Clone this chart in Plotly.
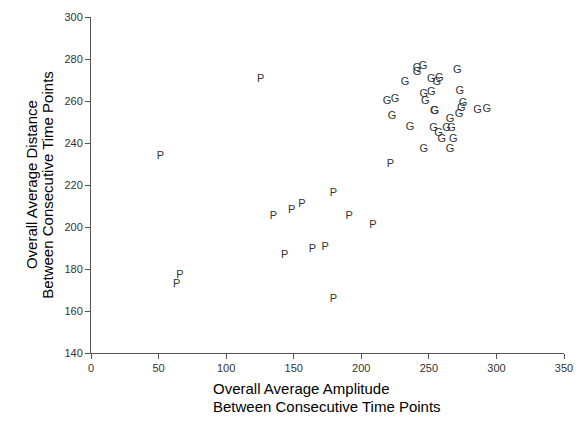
import plotly.graph_objects as go

# Group P
p_amp = [51.3, 125.6, 179.4, 134.9, 148.4, 156.1, 191.0, 143.3, 163.8, 173.2, 65.8, 63.4, 179.4, 221.5, 208.6]
p_dist = [233.5, 270.5, 216.0, 204.9, 207.8, 211.0, 204.9, 186.7, 189.5, 190.3, 177.1, 172.9, 165.6, 230.0, 201.0]

# Group G
g_amp = [241.3, 245.7, 241.3, 271.1, 232.4, 251.8, 257.8, 255.8, 272.8, 219.1, 224.9, 246.2,
         251.8, 247.4, 254.0, 254.3, 275.2, 274.0, 272.3, 286.1, 292.9, 222.7, 236.0, 265.6,
         253.4, 257.1, 259.5, 263.1, 266.7, 268.0, 246.2, 265.6]
g_dist = [275.6, 276.7, 273.5, 274.8, 268.7, 270.3, 270.8, 268.7, 264.8, 259.7, 261.0, 263.2,
          264.0, 259.7, 254.9, 255.0, 258.9, 256.5, 253.7, 255.7, 256.2, 252.9, 247.5, 251.1,
          246.8, 244.8, 241.6, 247.1, 246.8, 241.6, 236.8, 236.8]

x_ticks = [0, 50, 100, 150, 200, 250, 300, 350]
y_ticks = [140, 160, 180, 200, 220, 240, 260, 280, 300]

x_title = ["Overall Average Amplitude", "Between Consecutive Time Points"]
y_title = ["Overall Average Distance", "Between Consecutive Time Points"]

FONT = "Arial, Liberation Sans, sans-serif"

fig = go.Figure()
fig.add_trace(go.Scatter(x=p_amp, y=p_dist, mode="text", text=["P"] * len(p_amp),
                         textposition="middle center",
                         textfont=dict(family=FONT, size=11, color="#333333"),
                         hoverinfo="x+y", showlegend=False))
fig.add_trace(go.Scatter(x=g_amp, y=g_dist, mode="text", text=["G"] * len(g_amp),
                         textposition="middle center",
                         textfont=dict(family=FONT, size=11, color="#333333"),
                         hoverinfo="x+y", showlegend=False))

axis_common = dict(showgrid=False, zeroline=False, showline=True, linecolor="#555555",
                   linewidth=1, ticks="outside", ticklen=5, tickcolor="#555555",
                   tickfont=dict(family=FONT, size=11, color="#333333"), mirror=False)

title_font = dict(family=FONT, size=15, color="#000000")
annotations = []
for line, yp in zip(x_title, [-0.107, -0.158]):
    annotations.append(dict(text=line, xref="paper", yref="paper", x=0.253, y=yp,
                            xanchor="left", yanchor="middle", showarrow=False,
                            font=title_font))
for line, xp in zip(y_title, [-0.1266, -0.0934]):
    annotations.append(dict(text=line, xref="paper", yref="paper", x=xp, y=0.5,
                            xanchor="center", yanchor="middle", showarrow=False,
                            textangle=-90, font=title_font))

fig.update_layout(
    width=584, height=427,
    margin=dict(l=91, r=11, t=17, b=74),
    paper_bgcolor="white", plot_bgcolor="white",
    xaxis=dict(range=[0, 350], tickvals=x_ticks, **axis_common),
    yaxis=dict(range=[140, 300], tickvals=y_ticks, **axis_common),
    annotations=annotations,
)

fig.write_html("out.html")
